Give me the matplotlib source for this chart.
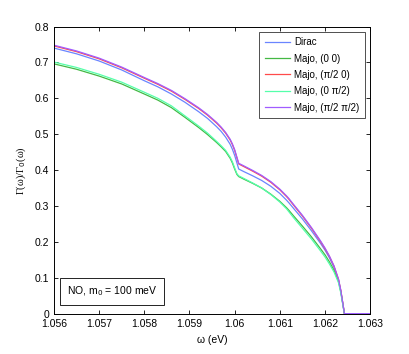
import matplotlib
matplotlib.use('Agg')
import matplotlib.pyplot as plt

plt.rcParams['font.family'] = ['Liberation Sans', 'DejaVu Sans']

# photon energy grid (eV)
omega = [1.056, 1.0565, 1.057, 1.0575, 1.058, 1.0583, 1.0586, 1.0589, 1.0592, 1.0594,
         1.0596, 1.0597, 1.0598, 1.0599, 1.05995, 1.06, 1.06005, 1.06009, 1.0602, 1.0604,
         1.0606, 1.0608, 1.061, 1.06115, 1.0612, 1.0613, 1.0615, 1.0617, 1.0619, 1.062,
         1.0621, 1.0622, 1.0623, 1.06235, 1.0624, 1.06243, 1.063]

dirac = [0.740, 0.724, 0.704, 0.679, 0.649, 0.632, 0.612, 0.589, 0.563, 0.544,
         0.521, 0.508, 0.492, 0.472, 0.458, 0.441, 0.420, 0.403, 0.396, 0.384,
         0.371, 0.355, 0.335, 0.316, 0.309, 0.294, 0.264, 0.231, 0.196, 0.177,
         0.155, 0.129, 0.093, 0.063, 0.024, 0.0, 0.0]

majo_00 = [0.696, 0.681, 0.662, 0.640, 0.612, 0.595, 0.574, 0.547, 0.519, 0.499,
           0.477, 0.465, 0.452, 0.433, 0.420, 0.403, 0.388, 0.382, 0.375, 0.363,
           0.350, 0.333, 0.313, 0.295, 0.288, 0.273, 0.244, 0.214, 0.181, 0.164,
           0.144, 0.121, 0.090, 0.061, 0.023, 0.0, 0.0]

majo_p0 = [0.746, 0.730, 0.710, 0.685, 0.656, 0.639, 0.620, 0.597, 0.572, 0.553,
           0.531, 0.518, 0.503, 0.484, 0.471, 0.455, 0.434, 0.417, 0.410, 0.397,
           0.383, 0.366, 0.345, 0.326, 0.319, 0.303, 0.272, 0.238, 0.201, 0.181,
           0.159, 0.132, 0.095, 0.065, 0.025, 0.0, 0.0]

majo_0p = [0.701, 0.686, 0.667, 0.645, 0.617, 0.600, 0.579, 0.551, 0.523, 0.503,
           0.480, 0.468, 0.455, 0.436, 0.423, 0.406, 0.390, 0.384, 0.377, 0.364,
           0.350, 0.332, 0.311, 0.292, 0.284, 0.268, 0.238, 0.208, 0.175, 0.158,
           0.138, 0.116, 0.086, 0.058, 0.021, 0.0, 0.0]

majo_pp = [0.748, 0.732, 0.712, 0.687, 0.658, 0.641, 0.622, 0.599, 0.574, 0.555,
           0.533, 0.520, 0.505, 0.486, 0.473, 0.457, 0.436, 0.419, 0.412, 0.399,
           0.385, 0.368, 0.347, 0.328, 0.321, 0.305, 0.274, 0.240, 0.203, 0.183,
           0.160, 0.133, 0.096, 0.065, 0.025, 0.0, 0.0]

labels = ['Dirac', 'Majo, (0 0)', 'Majo, (\u03c0/2 0)', 'Majo, (0 \u03c0/2)', 'Majo, (\u03c0/2 \u03c0/2)']
colors = ['#6a85ff', '#44b844', '#ff4a4a', '#55ffaa', '#a05cff']
series = [dirac, majo_00, majo_p0, majo_0p, majo_pp]

xticks = [1.056, 1.057, 1.058, 1.059, 1.06, 1.061, 1.062, 1.063]
xticklabels = ['1.056', '1.057', '1.058', '1.059', '1.06', '1.061', '1.062', '1.063']
yticks = [0, 0.1, 0.2, 0.3, 0.4, 0.5, 0.6, 0.7, 0.8]
yticklabels = ['0', '0.1', '0.2', '0.3', '0.4', '0.5', '0.6', '0.7', '0.8']

fig = plt.figure(figsize=(4.09, 3.54), dpi=100)
ax = fig.add_axes([0.132, 0.114, 0.773, 0.811])

for vals, col, lab in zip(series, colors, labels):
    ax.plot(omega, vals, color=col, lw=0.9, label=lab)

ax.set_xlim(1.056, 1.063)
ax.set_ylim(0, 0.8)
ax.set_xticks(xticks)
ax.set_xticklabels(xticklabels)
ax.set_yticks(yticks)
ax.set_yticklabels(yticklabels)
ax.tick_params(direction='in', top=True, right=True, labelsize=7.5, length=3, width=0.6)
ax.tick_params(axis='x', pad=4)
ax.tick_params(axis='y', pad=3.5)
for sp in ax.spines.values():
    sp.set_linewidth(0.7)

ax.set_xlabel('\u03c9 (eV)', fontsize=7.5, labelpad=4)
ax.set_ylabel('\u0393(\u03c9)/\u0393$_0$(\u03c9)', fontsize=7.5, labelpad=5,
              family=['Liberation Serif', 'DejaVu Serif'])

leg = ax.legend(loc='upper right', fontsize=7, frameon=True, fancybox=False,
                edgecolor='black', handlelength=2.6, borderpad=0.55, labelspacing=0.65,
                handletextpad=0.45, borderaxespad=0.55)
leg.get_frame().set_linewidth(0.6)

ax.text(0.041, 0.077, 'NO, m$_0$ = 100 meV', transform=ax.transAxes, fontsize=7.5,
        va='center', ha='left',
        bbox=dict(boxstyle='square,pad=0.65', fc='white', ec='black', lw=0.6))

fig.savefig('out.png', dpi=100)
